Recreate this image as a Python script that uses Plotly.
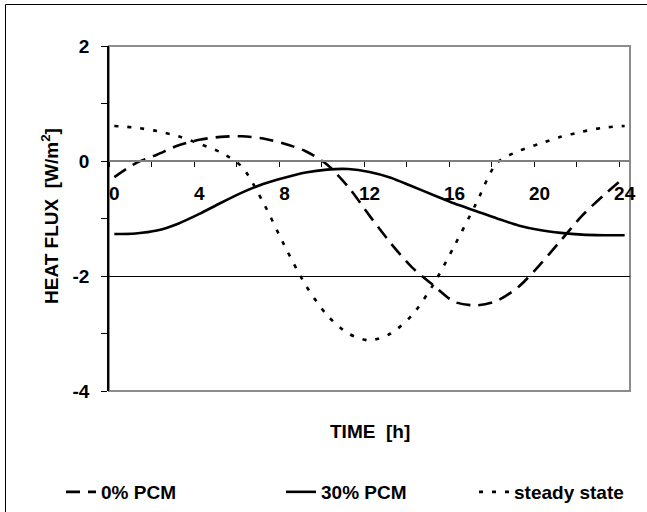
import plotly.graph_objects as go

hours = list(range(0, 25))
pcm0 = [-0.28, -0.04, 0.11, 0.27, 0.37, 0.42, 0.43, 0.39, 0.30, 0.17, -0.06, -0.45, -0.95,
        -1.43, -1.85, -2.16, -2.45, -2.51, -2.43, -2.19, -1.81, -1.38, -0.95, -0.60, -0.28]
pcm30 = [-1.27, -1.26, -1.21, -1.09, -0.92, -0.73, -0.55, -0.40, -0.29, -0.20, -0.15, -0.14, -0.19,
         -0.29, -0.44, -0.59, -0.74, -0.87, -1.00, -1.12, -1.20, -1.25, -1.28, -1.29, -1.29]
steady = [0.61, 0.58, 0.52, 0.43, 0.30, 0.15, -0.10, -0.72, -1.47, -2.16, -2.68, -3.00, -3.12,
          -3.00, -2.68, -2.15, -1.47, -0.75, -0.03, 0.17, 0.30, 0.42, 0.51, 0.58, 0.61]
series_names = ["0% PCM", "30% PCM", "steady state"]
x_ticks = [0, 4, 8, 12, 16, 20, 24]
y_ticks = [-4, -2, 0, 2]

FONT = dict(family="Liberation Sans, Arial, sans-serif", size=19, color="black", weight="bold")

W, H = 647, 512
ML, MR, MT, MB = 109, 17, 46, 121
PW, PH = W - ML - MR, H - MT - MB


def px_x(p):
    return (p - ML) / PW


def px_y(p):
    return (H - MB - p) / PH


fig = go.Figure()
styles = [dict(dash="14px,8px"), dict(dash="solid"), dict(dash="4px,9px")]
legends = ["legend", "legend2", "legend3"]
for name, ys, st, lg in zip(series_names, [pcm0, pcm30, steady], styles, legends):
    fig.add_trace(go.Scatter(
        x=hours, y=ys, name=name, mode="lines", legend=lg,
        line=dict(color="black", width=2.6, shape="spline", smoothing=0.8, dash=st["dash"]),
    ))

fig.update_layout(
    width=W, height=H,
    margin=dict(l=ML, r=MR, t=MT, b=MB, autoexpand=False),
    paper_bgcolor="white", plot_bgcolor="white",
    font=FONT,
    showlegend=True,
    xaxis=dict(
        range=[-0.25, 24.25], anchor="free", position=4 / 6,
        tickmode="array", tickvals=x_ticks, ticktext=[str(v) for v in x_ticks],
        ticks="", showgrid=False, zeroline=False,
        showline=True, linecolor="#7f7f7f", linewidth=1.6,
        ticklabelstandoff=15, tickfont=FONT,
        minor=dict(tick0=-0.25, dtick=2, ticks="outside", ticklen=5, tickcolor="black",
                   tickwidth=1, showgrid=False),
        automargin=False,
    ),
    yaxis=dict(
        range=[-4, 2], tickmode="array", tickvals=y_ticks, ticktext=[str(v) for v in y_ticks],
        ticks="outside", ticklen=6, tickcolor="black", tickwidth=1,
        showgrid=True, gridcolor="black", gridwidth=1, zeroline=False,
        showline=True, linecolor="black", linewidth=1.6,
        ticklabelstandoff=8, tickfont=FONT,
        minor=dict(dtick=1, ticks="outside", ticklen=6, tickcolor="black", tickwidth=1,
                   showgrid=False),
        automargin=False,
    ),
)

leg_common = dict(orientation="h", yanchor="middle", y=px_y(492), xanchor="left",
                  font=FONT, bgcolor="rgba(0,0,0,0)", borderwidth=0,
                  itemclick=False, itemdoubleclick=False)
fig.update_layout(
    legend=dict(x=px_x(61), **leg_common),
    legend2=dict(x=px_x(281), **leg_common),
    legend3=dict(x=px_x(474), **leg_common),
)

# plot frame
fig.add_shape(type="rect", xref="x domain", yref="y domain", x0=0, x1=1, y0=0, y1=1,
              line=dict(color="#8c8c8c", width=2), layer="below")
# outer chart border (left and top visible)
fig.add_shape(type="line", xref="paper", yref="paper", x0=px_x(5.5), x1=px_x(5.5),
              y0=px_y(4.5), y1=px_y(600), line=dict(color="black", width=1))
fig.add_shape(type="line", xref="paper", yref="paper", x0=px_x(5.5), x1=px_x(700),
              y0=px_y(4.5), y1=px_y(4.5), line=dict(color="black", width=1))

fig.add_annotation(text="TIME  [h]", xref="paper", yref="paper", x=0.5, y=px_y(432),
                   xanchor="center", yanchor="middle", showarrow=False, font=FONT)
fig.add_annotation(text="HEAT FLUX  [W/m<sup>2</sup>]", xref="paper", yref="paper",
                   x=px_x(50), y=px_y(216), textangle=-90,
                   xanchor="center", yanchor="middle", showarrow=False, font=FONT)

fig.write_html("out.html")
